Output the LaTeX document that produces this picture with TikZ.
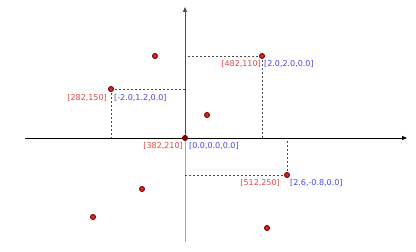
\documentclass[tikz,border=0pt]{standalone}
\usepackage{fontspec}
\setmainfont{DejaVu Sans}
\usetikzlibrary{arrows.meta}
\definecolor{lblred}{RGB}{225,70,70}
\definecolor{lblblue}{RGB}{70,70,225}
\definecolor{ptfill}{RGB}{215,40,40}
\definecolor{ptdraw}{RGB}{120,0,0}
\begin{document}
\begin{tikzpicture}[x=1pt,y=1pt,
  pt/.style={circle,draw=ptdraw,fill=ptfill,line width=0.9pt,minimum size=5pt,inner sep=0pt},
  guide/.style={draw=black!70,line width=0.7pt,dash pattern=on 2pt off 2pt},
  rlab/.style={text=lblred,font=\fontsize{8}{9}\selectfont,inner sep=0pt,anchor=east},
  blab/.style={text=lblblue,font=\fontsize{8}{9}\selectfont,inner sep=0pt,anchor=west},
  axis/.style={line width=0.9pt,-{Triangle[length=5pt,width=4pt]}}]
\useasboundingbox (0,0) rectangle (416,252);
% axes
\coordinate (xl) at (25,114);
\coordinate (xr) at (407,114);
\coordinate (yb) at (185,10);
\coordinate (yo) at (185,114);
\coordinate (yt) at (185,245);
\draw[draw=black!35,line width=1pt] (yb) -- (yo);
\draw[axis,draw=black!70,fill=black] (yo) -- (yt);
\draw[axis,draw=black] (xl) -- (xr);
% projection feet
\coordinate (ay) at (185,196);
\coordinate (ax) at (262,114);
\coordinate (by) at (185,163);
\coordinate (bx) at (111,114);
\coordinate (cy) at (185,77);
\coordinate (cx) at (287,114);
\draw[guide] (262,196) -- (ay);
\draw[guide] (262,196) -- (ax);
\draw[guide] (111,163) -- (by);
\draw[guide] (111,163) -- (bx);
\draw[guide] (287,77) -- (cy);
\draw[guide] (287,77) -- (cx);
% points
\node[pt] (A) at (262,196) {};
\node[pt] (B) at (111,163) {};
\node[pt] (C) at (287,77) {};
\node[pt,fill=ptdraw] (O) at (185,114) {};
\node[pt] (p1) at (155,196) {};
\node[pt] (p2) at (207,137) {};
\node[pt] (p3) at (142,63) {};
\node[pt] (p4) at (93,35) {};
\node[pt] (p5) at (267,24) {};
% labels
\node[rlab] (Ar) at (261,188) {[482,110]};
\node[blab] (Ab) at (264,188) {[2.0,2.0,0.0]};
\node[rlab] (Or) at (183,106) {[382,210]};
\node[blab] (Ob) at (189,106) {[0.0,0.0,0.0]};
\node[rlab] (Br) at (107,154) {[282,150]};
\node[blab] (Bb) at (114,154) {[-2.0,1.2,0.0]};
\node[rlab] (Cr) at (280,69) {[512,250]};
\node[blab] (Cb) at (290,69) {[2.6,-0.8,0.0]};
\end{tikzpicture}
\end{document}
